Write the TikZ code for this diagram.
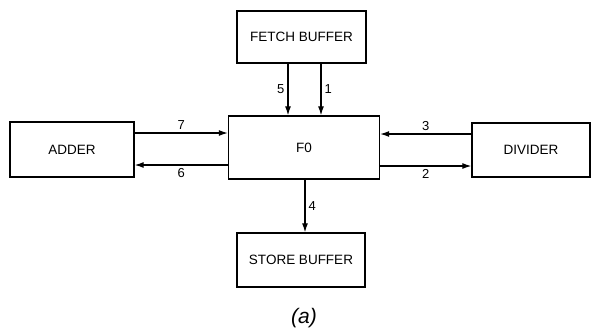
\documentclass[tikz,border=0pt]{standalone}
\usepackage{fontspec}
\setmainfont{Liberation Sans}
\usetikzlibrary{arrows.meta}

\tikzset{
  unit/.style={draw, line width=1.3pt, inner sep=0pt, font=\fontsize{13.5}{15}\selectfont},
  link/.style={line width=1.2pt, -{Latex[length=9pt,width=6pt]}},
  num/.style={font=\fontsize{13}{15}\selectfont, inner sep=3pt}
}

\begin{document}
\begin{tikzpicture}[x=1pt, y=-1pt]
  \useasboundingbox (0,0) rectangle (598,330);

  % units
  \node[unit, minimum width=129pt, minimum height=52pt] (fetch) at (301.5,37) {FETCH BUFFER};
  \node[unit, minimum width=151pt, minimum height=63pt] (fo) at (304,147.5) {F0};
  \node[unit, minimum width=124pt, minimum height=55pt] (adder) at (72,149.5) {ADDER};
  \node[unit, minimum width=118pt, minimum height=54pt] (divider) at (531,150) {DIVIDER};
  \node[unit, minimum width=128pt, minimum height=54pt] (store) at (301,260) {STORE BUFFER};

  % transfers
  \draw[link] ([xshift=-13.5pt]fetch.south) -- ([xshift=-13.5pt]fetch.south |- fo.north)
    node[num, midway, left] {5};
  \draw[link] ([xshift=19.5pt]fetch.south) -- ([xshift=19.5pt]fetch.south |- fo.north)
    node[num, midway, right] {1};
  \draw[link] ([yshift=16.5pt]adder.east) -- ([yshift=16.5pt]adder.east -| fo.west)
    node[num, midway, above] {7};
  \draw[link] ([yshift=-15.5pt]adder.east -| fo.west) -- ([yshift=-15.5pt]adder.east)
    node[num, midway, below] {6};
  \draw[link] ([yshift=16pt]divider.west) -- ([yshift=16pt]divider.west -| fo.east)
    node[num, midway, above] {3};
  \draw[link] ([yshift=-16pt]divider.west -| fo.east) -- ([yshift=-16pt]divider.west)
    node[num, midway, below] {2};
  \draw[link] ([xshift=1pt]fo.south) -- ([xshift=1pt]fo.south |- store.north)
    node[num, midway, right] {4};

  \node[font=\fontsize{21}{24}\selectfont\itshape] (caption) at (304,318) {(a)};
\end{tikzpicture}
\end{document}
